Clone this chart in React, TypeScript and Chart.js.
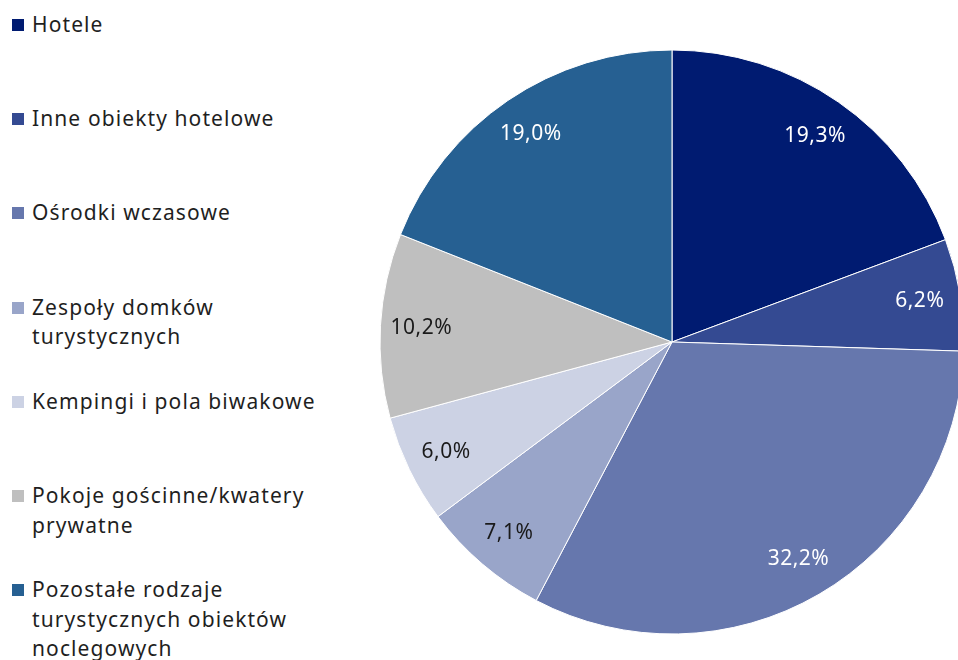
import React, { useEffect, useRef } from "react";
import { Chart, registerables } from "chart.js";

Chart.register(...registerables);

const categories: string[][] = [
  ["Hotele"],
  ["Inne obiekty hotelowe"],
  ["Ośrodki wczasowe"],
  ["Zespoły domków", "turystycznych"],
  ["Kempingi i pola biwakowe"],
  ["Pokoje gościnne/kwatery", "prywatne"],
  ["Pozostałe rodzaje", "turystycznych obiektów", "noclegowych"],
];
const values: number[] = [19.3, 6.2, 32.2, 7.1, 6.0, 10.2, 19.0];
const valueLabels: string[] = ["19,3%", "6,2%", "32,2%", "7,1%", "6,0%", "10,2%", "19,0%"];
const colors: string[] = ["#001b71", "#344a92", "#6677ad", "#99a5c9", "#ccd2e4", "#bfbfbf", "#266092"];
const labelColors: string[] = ["#ffffff", "#ffffff", "#ffffff", "#1a1a1a", "#1a1a1a", "#1a1a1a", "#ffffff"];

const FONT = "'Noto Sans', 'DejaVu Sans', sans-serif";

const sliceLabels = {
  id: "sliceLabels",
  afterDatasetsDraw(chart: any) {
    const ctx = chart.ctx;
    const meta = chart.getDatasetMeta(0);
    ctx.save();
    ctx.font = `21px ${FONT}`;
    try { (ctx as any).letterSpacing = "0.5px"; } catch (e) {}
    ctx.textAlign = "center";
    ctx.textBaseline = "middle";
    meta.data.forEach((arc: any, i: number) => {
      const { x, y, startAngle, endAngle, outerRadius } = arc.getProps(
        ["x", "y", "startAngle", "endAngle", "outerRadius"],
        true
      );
      const mid = (startAngle + endAngle) / 2;
      const r = outerRadius * 0.86;
      ctx.fillStyle = labelColors[i];
      ctx.fillText(valueLabels[i], x + Math.cos(mid) * r, y + Math.sin(mid) * r);
    });
    ctx.restore();
  },
};

export default function App() {
  const ref = useRef<HTMLCanvasElement | null>(null);
  useEffect(() => {
    if (!ref.current) return;
    const chart = new Chart(ref.current, {
      type: "pie",
      data: {
        labels: categories.map((c) => c.join(" ")),
        datasets: [
          {
            data: values,
            backgroundColor: colors,
            borderColor: "#ffffff",
            borderWidth: 1,
          },
        ],
      },
      options: {
        animation: false,
        responsive: false,
        radius: 292,
        layout: { padding: 0 },
        plugins: { legend: { display: false }, tooltip: { enabled: false } },
      } as any,
      plugins: [sliceLabels],
    });
    return () => chart.destroy();
  }, []);

  return (
    <div
      style={{
        position: "fixed",
        left: 0,
        top: 0,
        width: 958,
        height: 660,
        overflow: "hidden",
        background: "#ffffff",
        fontFamily: FONT,
      }}
    >
      {categories.map((lines, i) => (
        <div
          key={i}
          style={{
            position: "absolute",
            left: 12,
            top: 25 + i * 94.2 - 15,
            display: "flex",
            alignItems: "flex-start",
          }}
        >
          <div
            style={{
              width: 12,
              height: 12,
              background: colors[i],
              marginTop: 9,
              marginRight: 8,
              flex: "none",
            }}
          />
          <div
            style={{
              fontSize: 21,
              letterSpacing: "1.1px",
              lineHeight: "29.5px",
              color: "#1f1f1f",
              whiteSpace: "nowrap",
            }}
          >
            {lines.map((l, j) => (
              <div key={j}>{l}</div>
            ))}
          </div>
        </div>
      ))}
      <canvas
        ref={ref}
        width={600}
        height={600}
        style={{ position: "absolute", left: 372, top: 42, width: 600, height: 600 }}
      />
    </div>
  );
}
